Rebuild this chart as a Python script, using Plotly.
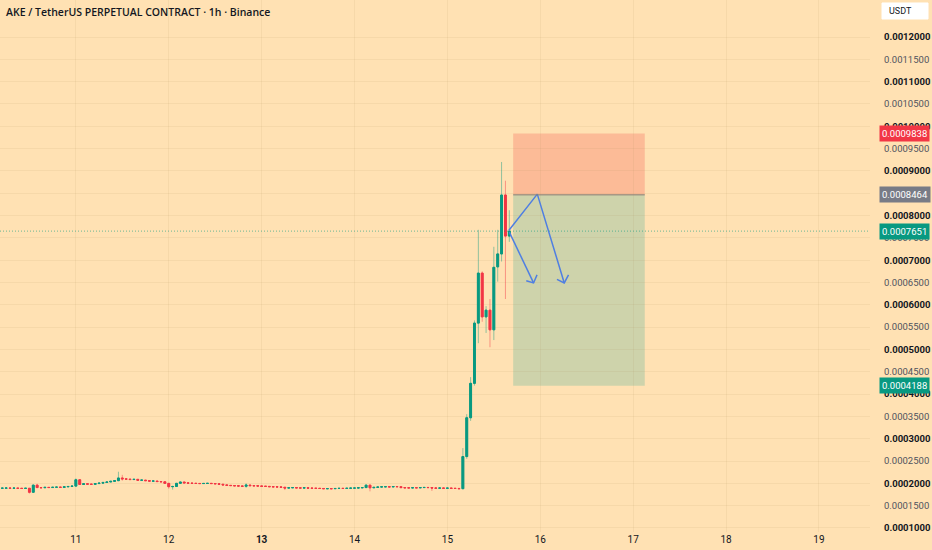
import pandas as pd
import plotly.graph_objects as go

TITLE = "AKE / TetherUS PERPETUAL CONTRACT · 1h · Binance"
START = "2025-06-10 05:00"

# hourly closes before the pump, opens follow the previous close
flat_close = [
    0.0001892, 0.0001895, 0.0001890, 0.0001893, 0.0001888, 0.0001886, 0.0001890, 0.0001800,
    0.0001960, 0.0001905, 0.0001902, 0.0001910, 0.0001906, 0.0001912, 0.0001915, 0.0001910,
    0.0001922, 0.0001930, 0.0001938, 0.0002080, 0.0001975, 0.0001990, 0.0001982, 0.0001978,
    0.0001995, 0.0002005, 0.0002020, 0.0002030, 0.0002045, 0.0002060, 0.0002120, 0.0002100,
    0.0002095, 0.0002085, 0.0002090, 0.0002070, 0.0002072, 0.0002060, 0.0002050, 0.0002052,
    0.0002040, 0.0002035, 0.0002000, 0.0001925, 0.0001930, 0.0002000, 0.0002030, 0.0002010,
    0.0002005, 0.0002000, 0.0001998, 0.0001995, 0.0001998, 0.0002000, 0.0001995, 0.0001990,
    0.0001980, 0.0001965, 0.0001955, 0.0001950, 0.0001945, 0.0001940, 0.0001935, 0.0001962,
    0.0001948, 0.0001945, 0.0001940, 0.0001935, 0.0001932, 0.0001925, 0.0001922, 0.0001920,
    0.0001912, 0.0001895, 0.0001900, 0.0001905, 0.0001898, 0.0001895, 0.0001900, 0.0001892,
    0.0001890, 0.0001888, 0.0001885, 0.0001880, 0.0001882, 0.0001880, 0.0001885, 0.0001888,
    0.0001885, 0.0001890, 0.0001893, 0.0001895, 0.0001900, 0.0001905, 0.0001960, 0.0001900,
    0.0001910, 0.0001918, 0.0001922, 0.0001925, 0.0001920, 0.0001928, 0.0001925, 0.0001905,
    0.0001900, 0.0001898, 0.0001902, 0.0001900, 0.0001905, 0.0001908, 0.0001905, 0.0001895,
    0.0001892, 0.0001895, 0.0001890, 0.0001893, 0.0001888, 0.0001886, 0.0001880,
]
flat_first_open = 0.0001890
# visible wicks in the flat part: index -> (high, low)
flat_wicks = {
    7: (0.0001895, 0.0001770), 8: (0.0001975, 0.0001795), 9: (0.0001990, 0.0001900),
    19: (0.0002110, 0.0001930), 20: (0.0002085, 0.0001965), 30: (0.0002260, 0.0002050),
    31: (0.0002190, 0.0002060), 43: (0.0002000, 0.0001880), 44: (0.0001945, 0.0001860),
    45: (0.0002010, 0.0001925), 63: (0.0002000, 0.0001900), 73: (0.0001915, 0.0001850),
    94: (0.0001975, 0.0001900), 95: (0.0001965, 0.0001820), 111: (0.0001905, 0.0001830),
}

pump_open = [0.000188, 0.000260, 0.000347, 0.000424, 0.000559, 0.000671, 0.000573,
             0.000588, 0.000544, 0.000685, 0.000714, 0.000846, 0.000754]
pump_high = [0.000279, 0.000355, 0.000438, 0.000565, 0.000768, 0.000675, 0.000597,
             0.000613, 0.000730, 0.000768, 0.000920, 0.000878, 0.000812]
pump_low = [0.000187, 0.000255, 0.000340, 0.000419, 0.000514, 0.000562, 0.000537,
            0.000505, 0.000521, 0.000652, 0.000697, 0.000613, 0.000741]
pump_close = [0.000260, 0.000347, 0.000424, 0.000559, 0.000671, 0.000573, 0.000588,
              0.000544, 0.000684, 0.000714, 0.000846, 0.000754, 0.000765]

STOP = 0.0009838
ENTRY = 0.0008464
LAST = 0.0007651
TARGET = 0.0004188

y_ticks = [round(0.0001 + 0.00005 * k, 7) for k in range(23)]
day_ticks = ["2025-06-%02d" % d for d in range(11, 20)]
day_labels = ["11", "12", "<b>13</b>", "14", "15", "16", "17", "18", "19"]

GREEN = "#089981"
RED = "#F23645"
BG = "#FFE1B3"
GRID = "rgba(170,140,90,0.10)"

# assemble candles
opens, highs, lows, closes = [], [], [], []
prev = flat_first_open
for i, c in enumerate(flat_close):
    hi, lo = flat_wicks.get(i, (max(prev, c), min(prev, c)))
    opens.append(prev); highs.append(hi); lows.append(lo); closes.append(c)
    prev = c
opens += pump_open; highs += pump_high; lows += pump_low; closes += pump_close

df = pd.DataFrame({"open": opens, "high": highs, "low": lows, "close": closes})
df["time"] = pd.date_range(START, periods=len(df), freq="h")
body_top = df[["open", "close"]].max(axis=1)
body_bot = df[["open", "close"]].min(axis=1)

fig = go.Figure()
# faded wicks
fig.add_trace(go.Candlestick(
    x=df["time"], open=df["open"], high=df["high"], low=df["low"], close=df["close"],
    increasing=dict(line=dict(color="rgba(8,153,129,0.45)", width=1), fillcolor="rgba(8,153,129,0.45)"),
    decreasing=dict(line=dict(color="rgba(242,54,69,0.45)", width=1), fillcolor="rgba(242,54,69,0.45)"),
    whiskerwidth=0, showlegend=False, hoverinfo="skip"))
# solid bodies
fig.add_trace(go.Candlestick(
    x=df["time"], open=df["open"], high=body_top, low=body_bot, close=df["close"],
    increasing=dict(line=dict(color=GREEN, width=1), fillcolor=GREEN),
    decreasing=dict(line=dict(color=RED, width=1), fillcolor=RED),
    whiskerwidth=0, showlegend=False))

# short position zones
z0, z1 = "2025-06-15 17:00", "2025-06-17 03:00"
fig.add_shape(type="rect", x0=z0, x1=z1, y0=ENTRY, y1=STOP, fillcolor="#FCBB97",
              line_width=0, layer="below")
fig.add_shape(type="rect", x0=z0, x1=z1, y0=TARGET, y1=ENTRY, fillcolor="#CED3AB",
              line_width=0, layer="below")
fig.add_shape(type="line", x0=z0, x1=z1, y0=ENTRY, y1=ENTRY,
              line=dict(color="rgba(140,130,120,0.7)", width=1.5))

# last price line
fig.add_shape(type="line", xref="paper", x0=0, x1=1, y0=LAST, y1=LAST,
              line=dict(color="rgba(8,153,129,0.6)", width=1, dash="1px,2px"))

# hand-drawn arrows
BLUE = "#4F7FE2"
fig.add_trace(go.Scatter(
    x=["2025-06-15 15:52", "2025-06-15 23:14", "2025-06-16 06:12"],
    y=[0.0007665, 0.000848, 0.000649], mode="lines",
    line=dict(color=BLUE, width=1.5), showlegend=False, hoverinfo="skip"))
fig.add_trace(go.Scatter(
    x=["2025-06-16 04:19", "2025-06-16 06:12", "2025-06-16 07:18"],
    y=[0.000657, 0.000649, 0.000667], mode="lines",
    line=dict(color=BLUE, width=1.5), showlegend=False, hoverinfo="skip"))
fig.add_trace(go.Scatter(
    x=["2025-06-15 16:00", "2025-06-15 22:16"],
    y=[0.000763, 0.000649], mode="lines",
    line=dict(color=BLUE, width=1.5), showlegend=False, hoverinfo="skip"))
fig.add_trace(go.Scatter(
    x=["2025-06-15 20:23", "2025-06-15 22:16", "2025-06-15 23:10"],
    y=[0.000654, 0.000649, 0.000667], mode="lines",
    line=dict(color=BLUE, width=1.5), showlegend=False, hoverinfo="skip"))

# price labels on the axis
for val, col in [(STOP, RED), (ENTRY, "#787B86"), (LAST, GREEN), (TARGET, GREEN)]:
    fig.add_annotation(xref="paper", x=1, xanchor="left", xshift=9, y=val, yref="y",
                       text="%.7f" % val, showarrow=False, bgcolor=col, borderpad=2,
                       font=dict(color="white", size=9.5, family="Roboto"))

fig.add_annotation(xref="paper", yref="paper", x=0, y=1, xanchor="left", yanchor="top",
                   xshift=4, yshift=-3, text=TITLE, showarrow=False,
                   font=dict(color="#131722", size=10.5, family="Open Sans", weight=600))

# currency box in the top right corner
fig.add_shape(type="rect", xref="paper", yref="paper", x0=1.0138, x1=1.0667,
              y0=0.9643, y1=0.9944, fillcolor="white", line=dict(color="white", width=1))
fig.add_annotation(xref="paper", yref="paper", x=1.0195, y=0.9793, xanchor="left",
                   yanchor="middle", text="USDT", showarrow=False,
                   font=dict(color="#131722", size=9, family="Roboto"))

y_text = []
for v in y_ticks:
    s = "%.7f" % v
    if round(v * 10000, 6) == round(v * 10000):
        y_text.append("<b>" + s + "</b>")
    else:
        y_text.append("<span style='color:#50535E'>" + s + "</span>")

fig.update_layout(
    width=932, height=550,
    margin=dict(l=0, r=62, t=0, b=18),
    paper_bgcolor=BG, plot_bgcolor=BG,
    font=dict(family="Roboto", color="#131722", size=10),
    xaxis=dict(range=["2025-06-10 04:24", "2025-06-19 13:12"], rangeslider_visible=False,
               tickvals=day_ticks, ticktext=day_labels, showgrid=True,
               gridcolor=GRID, zeroline=False, showline=False,
               ticks="", tickfont=dict(size=10, color="#131722")),
    yaxis=dict(side="right", range=[0.0000910, 0.0012829], tickvals=y_ticks, ticktext=y_text,
               showgrid=True, gridcolor=GRID, zeroline=False,
               ticks="", ticklabelstandoff=13, tickfont=dict(size=9.5, color="#131722")),
)

fig.write_html("out.html", config={"displayModeBar": False},
               post_script="document.body.style.margin='0';")
